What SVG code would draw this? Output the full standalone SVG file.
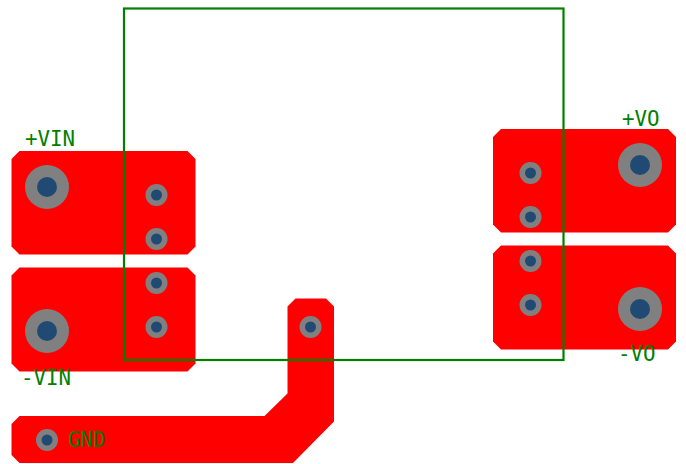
<svg xmlns="http://www.w3.org/2000/svg" width="686" height="464" viewBox="0 0 686 464">
<style>
.pad{fill:#ff0000}
.ring{fill:#808080}
.hole{fill:#204a73}
.lbl{font-family:"DejaVu Sans Mono","Liberation Mono",monospace;font-size:20.8px;fill:#008000}
</style>
<defs>
<g id="viaS"><circle class="ring" r="11"/><circle class="hole" r="5.500"/></g>
<g id="viaL"><circle class="ring" r="22"/><circle class="hole" r="10"/></g>
</defs>
<rect width="686" height="464" fill="#fff"/>
<g id="pad-vin-plus">
<path class="pad" d="M19.500 151H187.500L195.500 159V246.500L187.500 254.500H19.500L11.500 246.500V159Z"/>
<use href="#viaL" x="47" y="187"/><use href="#viaS" x="156.500" y="195"/><use href="#viaS" x="156.500" y="239"/>
</g>
<g id="pad-vin-minus">
<path class="pad" d="M19.500 267.500H187.500L195.500 275.500V363.500L187.500 371.500H19.500L11.500 363.500V275.500Z"/>
<use href="#viaL" x="47" y="331"/><use href="#viaS" x="156.500" y="283"/><use href="#viaS" x="156.500" y="327"/>
</g>
<g id="pad-vo-plus">
<path class="pad" d="M501 129H668L676 137V224.500L668 232.500H501L493 224.500V137Z"/>
<use href="#viaL" x="640" y="165"/><use href="#viaS" x="530.500" y="173"/><use href="#viaS" x="530.500" y="217"/>
</g>
<g id="pad-vo-minus">
<path class="pad" d="M501 245.500H668L676 253.500V341.500L668 349.500H501L493 341.500V253.500Z"/>
<use href="#viaL" x="640" y="309"/><use href="#viaS" x="530.500" y="261"/><use href="#viaS" x="530.500" y="305"/>
</g>
<g id="pad-gnd">
<path class="pad" d="M19.500 416H264.500L287.500 393.500V306.500L295.500 298.500H326L334 306.500V421.500L293 463H19.500L11.500 455V424Z"/>
<use href="#viaS" x="47" y="440"/><use href="#viaS" x="310.500" y="327"/>
</g>
<g id="connectors">
<rect x="124" y="8.500" width="439.500" height="351.500" fill="none" stroke="#008000" stroke-width="2.200"/>
</g>
<g id="labels">
<text class="lbl" x="25" y="145.500">+VIN</text>
<text class="lbl" x="21" y="384.500">-VIN</text>
<text class="lbl" x="622" y="126">+VO</text>
<text class="lbl" x="618" y="360.500">-VO</text>
<text class="lbl" x="68" y="446.500">GND</text>
</g>
</svg>
